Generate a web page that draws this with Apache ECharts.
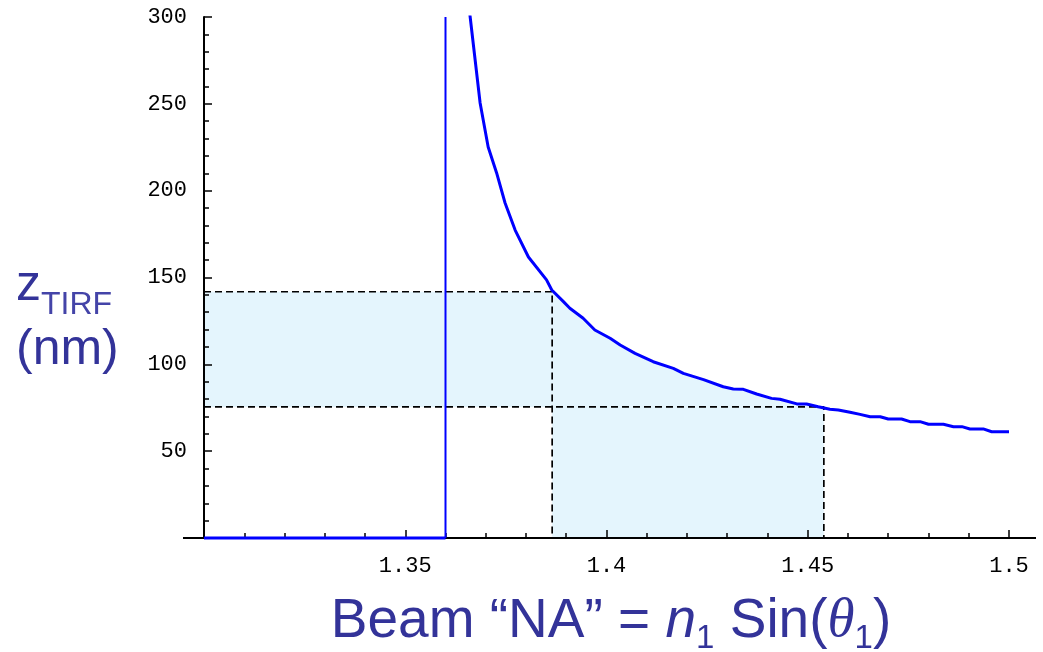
<!DOCTYPE html>
<html>
<head>
<meta charset="utf-8">
<script src="https://cdn.jsdelivr.net/npm/echarts@6/dist/echarts.min.js"></script>
<style>
html,body{margin:0;padding:0;background:#fff;}
#chart{width:1043px;height:652px;}
</style>
</head>
<body>
<div id="chart"></div>
<script>
// ---- data ----
const curveNA = [1.3655, 1.3661, 1.3686, 1.3706, 1.3727, 1.3748, 1.3773, 1.3806, 1.3851, 1.3864,
  1.3893, 1.3909, 1.3942, 1.3971, 1.4009, 1.4034, 1.4071, 1.4116, 1.4166, 1.4191,
  1.4241, 1.4290, 1.4315, 1.4340, 1.4373, 1.4410, 1.4431, 1.4473, 1.4497, 1.4526,
  1.4555, 1.4576, 1.4605, 1.4630, 1.4655, 1.4680, 1.4700, 1.4733, 1.4754, 1.4779,
  1.4800, 1.4837, 1.4862, 1.4883, 1.4903, 1.4936, 1.4957, 1.5000];
const curveZ = [312, 300.6, 250.5, 225.1, 210.2, 192.9, 177.3, 161.8, 148.6, 142.8,
  136.1, 132.3, 126.5, 119.8, 115.0, 111.1, 106.3, 101.5, 97.7, 94.8,
  91.2, 87.1, 85.8, 85.6, 82.9, 80.4, 79.9, 77.2, 77.2, 75.6,
  74.1, 73.7, 72.4, 71.2, 69.8, 69.8, 68.5, 68.5, 67.0, 67.0,
  65.5, 65.5, 64.1, 64.1, 62.8, 62.8, 61.2, 61.2];
const startNA = 1.30;      // left end of the plotted range
const endNA = 1.50;
const cutoffNA = 1.36;     // critical angle line
const cutoffTop = 300;
const guideNA = [1.3865, 1.4540];   // dashed vertical guides
const guideZ = [141.8, 75.5];       // dashed horizontal guides
const xTickInterval = 0.05;
const yTickInterval = 50;
const yMax = 300;

// ---- derived series ----
const curve = curveNA.map((x, i) => [x, curveZ[i]]);
const fillUpper = [[startNA, guideZ[0]], [guideNA[0], guideZ[0]]]
  .concat(curve.filter(p => p[0] > guideNA[0] && p[1] > guideZ[1]));
const fillLower = [[guideNA[0], guideZ[1]], [guideNA[1], guideZ[1]]];
const dashA = [[startNA, guideZ[0]], [guideNA[0], guideZ[0]], [guideNA[0], 0]];
const dashB = [[startNA, guideZ[1]], [guideNA[1], guideZ[1]], [guideNA[1], 0]];

const FILL = '#e4f5fd';
const BLUE = '#0000ff';
const TITLE = '#333399';
const monoFont = 'Liberation Mono';

// ---- title text runs (with subscripts) ----
const measureCtx = document.createElement('canvas').getContext('2d');
function textRun(idPrefix, frags, x, yMid, align) {
  const widths = frags.map(f => { measureCtx.font = f.font; return measureCtx.measureText(f.text).width; });
  const total = widths.reduce((a, b) => a + b, 0);
  let cx = align === 'center' ? x - total / 2 : x;
  return frags.map((f, i) => {
    const el = {id: idPrefix + i, type: 'text', z: 10,
      style: {x: cx, y: yMid + (f.dy || 0), text: f.text, font: f.font, fill: f.color || TITLE,
        align: 'left', verticalAlign: 'middle', textAlign: 'left', textVerticalAlign: 'middle'}};
    cx += widths[i];
    return el;
  });
}
const F_MAIN = '55px "Liberation Sans"';
const F_ITAL = 'italic 55px "Liberation Sans"';
const F_THETA = 'italic 55px "Liberation Serif"';
const F_SUB = '33px "Liberation Sans"';
const xTitle = textRun('xt', [
  {text: 'Beam “NA” = ', font: F_MAIN},
  {text: 'n', font: F_ITAL},
  {text: '1', font: F_SUB, dy: 17},
  {text: ' Sin(', font: F_MAIN},
  {text: 'θ', font: F_THETA},
  {text: '1', font: F_SUB, dy: 17},
  {text: ')', font: F_MAIN}
], 611, 622, 'center');
const yTitle1 = textRun('yt', [
  {text: 'z', font: '50px "Liberation Sans"'},
  {text: 'TIRF', font: '32px "Liberation Sans"', dy: 19, color: '#4444a8'}
], 16, 286, 'left');
const yTitle2 = textRun('yn', [{text: '(nm)', font: '50px "Liberation Sans"'}], 16, 350, 'left');

const chart = echarts.init(document.getElementById('chart'), null, {renderer: 'canvas'});

const option = {
  animation: false,
  backgroundColor: '#ffffff',
  grid: {left: 204, right: 34, top: 17, bottom: 114, containLabel: false},
  xAxis: {
    type: 'value', min: startNA, max: endNA, interval: xTickInterval, z: 5,
    axisLine: {show: true, onZero: false, lineStyle: {color: '#000', width: 2}},
    axisTick: {show: true, inside: true, length: 8, lineStyle: {color: '#000', width: 1.5}},
    minorTick: {show: true, splitNumber: 5, length: 5, lineStyle: {color: '#000', width: 1.5}},
    splitLine: {show: false}, minorSplitLine: {show: false},
    axisLabel: {show: true, showMinLabel: false, margin: 17, color: '#000', fontFamily: monoFont, fontSize: 22}
  },
  yAxis: {
    type: 'value', min: 0, max: yMax, interval: yTickInterval, z: 5,
    axisLine: {show: true, onZero: false, lineStyle: {color: '#000', width: 2}},
    axisTick: {show: true, inside: true, length: 8, lineStyle: {color: '#000', width: 1.5}},
    minorTick: {show: true, splitNumber: 5, length: 5, lineStyle: {color: '#000', width: 1.5}},
    splitLine: {show: false}, minorSplitLine: {show: false},
    axisLabel: {show: true, showMinLabel: false, margin: 17, color: '#000', fontFamily: monoFont, fontSize: 22}
  },
  series: [
    {type: 'line', data: fillUpper, symbol: 'none', z: 1, silent: true,
      lineStyle: {width: 0, opacity: 0}, areaStyle: {color: FILL, opacity: 1, origin: guideZ[1]}},
    {type: 'line', data: fillLower, symbol: 'none', z: 1, silent: true,
      lineStyle: {width: 0, opacity: 0}, areaStyle: {color: FILL, opacity: 1, origin: 0}},
    {type: 'line', data: dashA, symbol: 'none', z: 3,
      lineStyle: {color: '#000', width: 1.7, type: [7, 4]}},
    {type: 'line', data: dashB, symbol: 'none', z: 3,
      lineStyle: {color: '#000', width: 1.7, type: [7, 4]}},
    {type: 'line', data: [[cutoffNA, 0], [cutoffNA, cutoffTop]], symbol: 'none', z: 6,
      lineStyle: {color: BLUE, width: 2}},
    {type: 'line', data: [[startNA, 0], [cutoffNA, 0]], symbol: 'none', z: 6, clip: false,
      lineStyle: {color: BLUE, width: 3}},
    {type: 'line', data: curve, symbol: 'none', z: 6, clip: true,
      lineStyle: {color: BLUE, width: 3}}
  ],
  graphic: xTitle.concat(yTitle1, yTitle2)
};
chart.setOption(option);

// extend the x axis line slightly beyond the plotted range, as in the reference
const p0 = chart.convertToPixel({xAxisIndex: 0, yAxisIndex: 0}, [startNA, 0]);
const p1 = chart.convertToPixel({xAxisIndex: 0, yAxisIndex: 0}, [endNA, 0]);
chart.setOption({
  graphic: [
    {id: 'extL', type: 'line', z: 4, shape: {x1: p0[0] - 21, y1: p0[1], x2: p0[0], y2: p0[1]},
      style: {stroke: '#000', lineWidth: 2}},
    {id: 'extR', type: 'line', z: 4, shape: {x1: p1[0], y1: p1[1], x2: p1[0] + 27, y2: p1[1]},
      style: {stroke: '#000', lineWidth: 2}}
  ]
});
</script>
</body>
</html>
